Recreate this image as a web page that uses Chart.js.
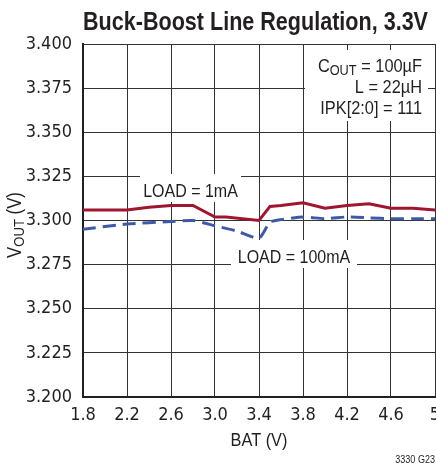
<!DOCTYPE html>
<html><head><meta charset="utf-8">
<script src="https://cdn.jsdelivr.net/npm/chart.js@4.4.0/dist/chart.umd.min.js"></script>
<style>
html,body{margin:0;padding:0;background:#fff;overflow:hidden;}
#wrap{position:absolute;left:0;top:0;width:436px;height:467px;}
</style></head>
<body><div id="wrap"><canvas id="c"></canvas></div>
<script>
// ---- data ----
const chartTitle = "Buck-Boost Line Regulation, 3.3V";
const xAxisTitle = "BAT (V)";
const yAxisTitleParts = ["V", "OUT", " (V)"];
const figureCode = "3330 G23";
const xTickValues = [1.8, 2.2, 2.6, 3.0, 3.4, 3.8, 4.2, 4.6, 5.0];
const xTickLabels = ["1.8", "2.2", "2.6", "3.0", "3.4", "3.8", "4.2", "4.6", "5"];
const yTickValues = [3.2, 3.225, 3.25, 3.275, 3.3, 3.325, 3.35, 3.375, 3.4];
const yTickLabels = ["3.200", "3.225", "3.250", "3.275", "3.300", "3.325", "3.350", "3.375", "3.400"];
const seriesNames = ["LOAD = 1mA", "LOAD = 100mA"];
const bat1mA  = [1.8, 2.2, 2.4, 2.6, 2.8, 3.0, 3.1, 3.4, 3.5, 3.6, 3.8, 4.0, 4.2, 4.4, 4.6, 4.8, 5.0];
const vout1mA = [3.306, 3.306, 3.3075, 3.3085, 3.3085, 3.302, 3.302, 3.300, 3.308, 3.3085, 3.310, 3.307, 3.3085, 3.3095, 3.307, 3.307, 3.306];
const bat100mA  = [1.8, 2.2, 2.6, 2.8, 3.0, 3.2, 3.4, 3.5, 3.6, 3.8, 4.0, 4.2, 4.4, 4.6, 4.8, 5.0];
const vout100mA = [3.295, 3.298, 3.2994, 3.300, 3.297, 3.294, 3.290, 3.299, 3.3005, 3.302, 3.301, 3.302, 3.3015, 3.301, 3.301, 3.301];
const noteLines = [["C", "OUT", " = 100µF"], ["L = 22µH"], ["IPK[2:0] = 111"]];

// ---- helpers ----
const BASE = '"Liberation Sans", Arial, sans-serif';
function toPts(xs, ys) { return xs.map((x, i) => ({ x: x, y: ys[i] })); }

// draws alternating normal / subscript parts, alphabetic baseline at y, horizontally condensed by k
function drawParts(ctx, parts, x, y, size, align, k, weight) {
  ctx.save();
  ctx.textBaseline = 'alphabetic';
  const w = weight ? weight + ' ' : '';
  const fonts = parts.map((p, i) => w + (i % 2 === 1 ? size * 0.78 : size) + 'px ' + BASE);
  let total = 0;
  parts.forEach((p, i) => { ctx.font = fonts[i]; total += ctx.measureText(p).width * k; });
  const start = align === 'right' ? x - total : (align === 'center' ? x - total / 2 : x);
  ctx.translate(start, y);
  ctx.scale(k, 1);
  let cx = 0;
  parts.forEach((p, i) => {
    ctx.font = fonts[i];
    ctx.textAlign = 'left';
    ctx.fillText(p, cx, i % 2 === 1 ? size * 0.16 : 0);
    cx += ctx.measureText(p).width;
  });
  ctx.restore();
}

const textPlugin = {
  id: 'texts',
  afterDatasetsDraw(chart) {
    const ctx = chart.ctx;
    ctx.save();
    ctx.fillStyle = '#fff';
    // label backgrounds
    ctx.fillRect(140, 174, 101, 28);
    ctx.fillRect(231, 240, 126, 28);
    ctx.fillRect(305, 50, 123, 71);
    ctx.fillStyle = '#231f20';
    const K = 0.86;
    drawParts(ctx, [seriesNames[0]], 190.5, 196.5, 18.6, 'center', K);
    drawParts(ctx, [seriesNames[1]], 294, 262.5, 18.6, 'center', K);
    drawParts(ctx, noteLines[0], 422, 72, 18.6, 'right', 0.88);
    drawParts(ctx, noteLines[1], 422, 93, 18.6, 'right', 0.88);
    drawParts(ctx, noteLines[2], 422, 114, 18.6, 'right', 0.88);
    // title, fit to measured width
    ctx.font = 'bold 25px ' + BASE;
    const tw = ctx.measureText(chartTitle).width;
    drawParts(ctx, [chartTitle], 255.5, 30, 25, 'center', 345 / tw, 'bold');
    // x axis title
    drawParts(ctx, [xAxisTitle], 259, 446, 19, 'center', K);
    // y axis title (rotated)
    ctx.save();
    ctx.translate(21, 225);
    ctx.rotate(-Math.PI / 2);
    drawParts(ctx, yAxisTitleParts, 0, 0, 19.5, 'center', K);
    ctx.restore();
    // figure code
    drawParts(ctx, [figureCode], 435, 463, 11.6, 'right', 0.78);
    ctx.restore();
  }
};

const tickFont = { family: '"Liberation Sans Narrow", "DejaVu Sans Condensed", "Liberation Sans", sans-serif', size: 18 };

new Chart(document.getElementById('c'), {
  type: 'line',
  data: {
    datasets: [
      { label: seriesNames[0], data: toPts(bat1mA, vout1mA), borderColor: '#a0152f', borderWidth: 3, pointRadius: 0, tension: 0, fill: false },
      { label: seriesNames[1], data: toPts(bat100mA, vout100mA), borderColor: '#3d5aa6', borderWidth: 3, borderDash: [13, 7], pointRadius: 0, tension: 0.2, cubicInterpolationMode: 'default', fill: false }
    ]
  },
  options: {
    responsive: true,
    maintainAspectRatio: false,
    animation: false,
    layout: { padding: { top: 44, left: 0, right: 1, bottom: 0 } },
    plugins: { legend: { display: false }, title: { display: false }, tooltip: { enabled: false } },
    scales: {
      x: {
        type: 'linear', min: 1.8, max: 5.0,
        afterBuildTicks: (s) => { s.ticks = xTickValues.map(v => ({ value: v })); },
        afterFit: (s) => { s.height = 70; s.paddingLeft = 0; s.paddingRight = 0; },
        ticks: { callback: (v, i) => xTickLabels[i], color: '#231f20', font: tickFont, padding: 8, maxRotation: 0, autoSkip: false },
        grid: { color: '#333', lineWidth: 1, drawTicks: false },
        border: { color: '#231f20', width: 2 }
      },
      y: {
        type: 'linear', min: 3.2, max: 3.4,
        afterBuildTicks: (s) => { s.ticks = yTickValues.map(v => ({ value: v })); },
        afterFit: (s) => { s.width = 83; s.paddingTop = 0; s.paddingBottom = 0; },
        ticks: { callback: (v, i) => yTickLabels[i], color: '#231f20', font: tickFont, padding: 11, autoSkip: false },
        grid: { color: '#333', lineWidth: 1, drawTicks: false },
        border: { color: '#231f20', width: 2 }
      }
    }
  },
  plugins: [textPlugin]
});
</script>
</body></html>
